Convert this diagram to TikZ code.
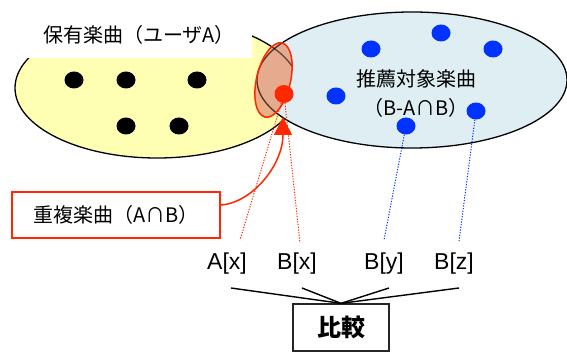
\documentclass[tikz,border=0pt]{standalone}
\usepackage{fontspec}
\setmainfont{Liberation Sans}
\newfontfamily\cjk{Noto Sans CJK JP}
\usetikzlibrary{arrows.meta,shapes.geometric}
\definecolor{yel}{RGB}{255,255,180}
\definecolor{lblue}{RGB}{222,238,242}
\definecolor{ovl}{RGB}{232,160,125}
\definecolor{myred}{RGB}{255,40,0}
\definecolor{myblue}{RGB}{0,51,255}
\begin{document}
\begin{tikzpicture}[x=1pt,y=-1pt,
  setline/.style={draw=black,line width=1.3pt},
  dotnode/.style={ellipse,inner sep=0pt,minimum width=19pt,minimum height=17pt},
  bdot/.style={dotnode,fill=black},
  bldot/.style={dotnode,fill=myblue},
  rdotst/.style={dotnode,fill=myred,minimum height=18pt},
  redline/.style={draw=myred,line width=1.5pt},
  rdotted/.style={draw=myred,line width=1pt,dash pattern=on 1.2pt off 1.5pt},
  bdotted/.style={draw=myblue,line width=1pt,dash pattern=on 1.2pt off 1.5pt},
  jtext/.style={font=\cjk\fontsize{20}{29}\selectfont,inner sep=0pt},
  ltext/.style={font=\fontsize{23}{27}\selectfont,inner sep=0pt},
  conn/.style={draw=black,line width=1.4pt}]
\useasboundingbox (0,0) rectangle (567,352);
% sets
\draw[setline,fill=yel] (157,88) ellipse [x radius=142, y radius=70];
\fill[white] (0,0) rectangle (252,58);
\draw[setline,fill=lblue] (412,80) ellipse [x radius=155, y radius=68];
\fill[ovl,fill opacity=0.85] (273.5,80) ellipse [x radius=17, y radius=38, rotate=-13];
\begin{scope}
\clip (273.5,80) ellipse [x radius=17, y radius=38, rotate=-13];
\draw[draw=black,line width=1.3pt,opacity=0.6] (157,88) ellipse [x radius=142, y radius=70];
\draw[draw=black,line width=1.3pt,opacity=0.6] (412,80) ellipse [x radius=155, y radius=68];
\end{scope}
\draw[redline] (273.5,80) ellipse [x radius=17, y radius=38, rotate=-13];
% dots
\node[bdot] (k1) at (74,80) {};
\node[bdot] (k2) at (126,80) {};
\node[bdot] (k3) at (197,80) {};
\node[bdot] (k4) at (126,126) {};
\node[bdot] (k5) at (179,126) {};
\node[bldot] (u1) at (371,49) {};
\node[bldot] (u2) at (441,33) {};
\node[bldot] (u3) at (493,49) {};
\node[bldot] (u4) at (336,96) {};
\node[bldot] (u5) at (406,126) {};
\node[bldot] (u6) at (476,111) {};
\node[rdotst] (rd) at (284,94) {};
\coordinate (tip) at (283,117);
% labels
\node[jtext] (own) at (139,35) {保有楽曲（ユーザA）};
\node[jtext,align=center] (rec) at (416,94) {推薦対象楽曲\\（B-A∩B）};
\node[jtext,draw=myred,line width=1.5pt,inner xsep=21pt,text width=166pt,align=left,minimum height=46pt] (dup) at (116,215) {重複楽曲（A∩B）};
\node[ltext] (ax) at (227,264) {A[x]};
\node[ltext] (bx) at (297,264) {B[x]};
\node[ltext] (by) at (384,264) {B[y]};
\node[ltext] (bz) at (454,264) {B[z]};
\node[draw=black!85,line width=1.3pt,minimum width=96pt,minimum height=47pt,inner sep=0pt,font=\cjk\bfseries\fontsize{24}{28}\selectfont] (cmp) at (341,327.5) {比較};
% connectors
\draw[redline,-{Triangle[length=18pt,width=18pt]}] ([yshift=10pt]dup.east) .. controls (252,203) and (283,165) .. (tip);
\draw[rdotted] (rd) -- ([shift={(13,-24)}]ax.center);
\draw[rdotted] (rd) -- ([shift={(3,-21)}]bx.center);
\draw[bdotted] (u5) -- ([shift={(0,-24)}]by.center);
\draw[bdotted] (u6) -- ([shift={(5,-23)}]bz.center);
\draw[conn] ([shift={(4,24)}]ax.center) -- (cmp.north);
\draw[conn] ([shift={(5,24)}]bx.center) -- (cmp.north);
\draw[conn] ([shift={(5,24)}]by.center) -- (cmp.north);
\draw[conn] ([shift={(5,24)}]bz.center) -- (cmp.north);
\end{tikzpicture}
\end{document}
